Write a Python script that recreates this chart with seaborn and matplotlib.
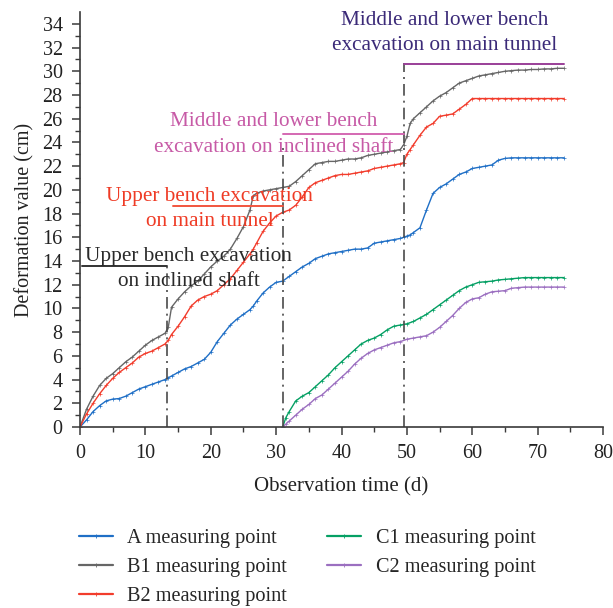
import numpy as np
import pandas as pd
import matplotlib
matplotlib.use("Agg")
import matplotlib.pyplot as plt
import seaborn as sns

# Observation days and deformation readings (cm)
days_ab = [0, 1, 2, 3, 4, 5, 6, 7, 8, 9, 10, 11, 12, 13, 13.5, 14, 15, 16, 17, 18,
           19, 20, 21, 22, 23, 24, 25, 26, 26.5, 27, 28, 29, 30, 31, 32, 33, 34, 35,
           36, 37, 38, 39, 40, 41, 42, 43, 44, 45, 46, 47, 48, 49, 49.5, 50, 50.5,
           51, 52, 53, 54, 55, 56, 57, 58, 59, 60, 61, 62, 63, 64, 65, 66, 67, 68,
           69, 70, 71, 72, 73, 74]

point_a = [0, 0.6, 1.3, 1.8, 2.2, 2.35, 2.4, 2.6, 2.9, 3.2, 3.4, 3.6, 3.8, 4.0, 4.15,
           4.3, 4.6, 4.9, 5.1, 5.4, 5.7, 6.3, 7.2, 7.9, 8.6, 9.1, 9.5, 9.9, 10.2,
           10.6, 11.3, 11.8, 12.2, 12.3, 12.7, 13.1, 13.5, 13.8, 14.2, 14.4, 14.6,
           14.7, 14.8, 14.9, 15.0, 15.0, 15.1, 15.5, 15.6, 15.7, 15.8, 15.9, 16.0,
           16.1, 16.2, 16.4, 16.8, 18.3, 19.7, 20.2, 20.5, 20.9, 21.3, 21.5, 21.8,
           21.9, 22.0, 22.1, 22.5, 22.65, 22.7, 22.7, 22.7, 22.7, 22.7, 22.7, 22.7,
           22.7, 22.7]

point_b1 = [0, 1.5, 2.6, 3.5, 4.1, 4.5, 5.0, 5.5, 5.9, 6.4, 6.9, 7.3, 7.6, 7.9, 8.4,
            10.1, 10.8, 11.4, 11.9, 12.3, 12.9, 13.5, 14.0, 14.4, 15.0, 15.9, 16.9,
            18.3, 19.5, 19.7, 19.9, 20.0, 20.1, 20.2, 20.3, 20.7, 21.2, 21.7, 22.2,
            22.3, 22.4, 22.4, 22.5, 22.6, 22.6, 22.7, 22.9, 23.0, 23.1, 23.2, 23.3,
            23.4, 23.8, 24.5, 25.6, 26.0, 26.5, 27.0, 27.5, 27.9, 28.2, 28.6, 29.0,
            29.2, 29.4, 29.6, 29.7, 29.8, 29.9, 30.0, 30.05, 30.1, 30.1, 30.15,
            30.15, 30.2, 30.2, 30.25, 30.25]

point_b2 = [0, 1.1, 2.0, 2.8, 3.5, 4.1, 4.6, 5.0, 5.4, 5.9, 6.2, 6.4, 6.7, 7.0, 7.3,
            7.8, 8.5, 9.3, 10.2, 10.7, 11.0, 11.2, 11.5, 12.0, 12.5, 13.2, 13.9,
            14.6, 15.0, 15.5, 16.5, 17.2, 17.8, 18.1, 18.3, 18.7, 19.4, 20.2, 20.6,
            20.8, 21.0, 21.2, 21.3, 21.3, 21.4, 21.5, 21.6, 21.8, 21.9, 22.0, 22.1,
            22.2, 22.3, 23.0, 23.4, 23.8, 24.6, 25.3, 25.6, 26.2, 26.3, 26.4, 26.8,
            27.2, 27.7, 27.7, 27.7, 27.7, 27.7, 27.7, 27.7, 27.7, 27.7, 27.7, 27.7,
            27.7, 27.7, 27.7, 27.7]

days_c = [31, 31.5, 32, 33, 34, 35, 36, 37, 38, 39, 40, 41, 42, 43, 44, 45, 46, 47,
          48, 49, 50, 51, 52, 53, 54, 55, 56, 57, 58, 59, 60, 61, 62, 63, 64, 65,
          66, 67, 68, 69, 70, 71, 72, 73, 74]

point_c1 = [0, 0.8, 1.3, 2.2, 2.6, 2.9, 3.4, 3.9, 4.4, 5.0, 5.5, 6.0, 6.5, 7.0, 7.3,
            7.5, 7.8, 8.2, 8.5, 8.6, 8.7, 8.9, 9.2, 9.5, 9.9, 10.3, 10.7, 11.1, 11.5,
            11.8, 12.0, 12.2, 12.25, 12.3, 12.4, 12.45, 12.5, 12.55, 12.6, 12.6,
            12.6, 12.6, 12.6, 12.6, 12.6]

point_c2 = [0, 0.25, 0.5, 1.0, 1.5, 1.9, 2.4, 2.7, 3.2, 3.7, 4.2, 4.7, 5.3, 5.8, 6.2,
            6.5, 6.7, 6.9, 7.1, 7.2, 7.4, 7.5, 7.6, 7.7, 8.0, 8.4, 8.9, 9.4, 10.0,
            10.5, 10.8, 10.9, 11.2, 11.4, 11.45, 11.5, 11.7, 11.75, 11.8, 11.8, 11.8,
            11.8, 11.8, 11.8, 11.8]

series_names = ["A measuring point", "B1 measuring point", "B2 measuring point",
                "C1 measuring point", "C2 measuring point"]
series_colors = ["#1f6fc6", "#666666", "#f23c2c", "#05a064", "#9b6fc0"]

# Days on which each construction stage starts
stage_days = [13.26, 31.0, 49.55]

frames = []
for name, days, vals in zip(series_names,
                            [days_ab, days_ab, days_ab, days_c, days_c],
                            [point_a, point_b1, point_b2, point_c1, point_c2]):
    frames.append(pd.DataFrame({"day": days, "value": vals, "series": name}))
df = pd.concat(frames, ignore_index=True)

sns.set_theme(style="ticks")
plt.rcParams["font.family"] = ["Liberation Serif", "DejaVu Serif"]
plt.rcParams["axes.edgecolor"] = "#3a3a3a"
plt.rcParams["xtick.color"] = "#3a3a3a"
plt.rcParams["ytick.color"] = "#3a3a3a"
plt.rcParams["xtick.labelcolor"] = "#222222"
plt.rcParams["ytick.labelcolor"] = "#222222"

fig = plt.figure(figsize=(6.13, 6.08), dpi=100)
ax = fig.add_axes([0.1305, 0.2977, 0.8532, 0.6826])

palette = dict(zip(series_names, series_colors))
sns.lineplot(data=df, x="day", y="value", hue="series", palette=palette,
             hue_order=series_names, ax=ax, linewidth=1.0, marker="+",
             markersize=2.2, markeredgewidth=0.5, legend=False, sort=False)
for ln in ax.lines:
    ln.set_markeredgecolor(ln.get_color())

ax.set_xlim(0, 80)
ax.set_ylim(0, 35)
ax.set_xticks(np.arange(0, 81, 10))
ax.set_xticks(np.arange(0, 81, 5), minor=True)
ax.set_yticks(np.arange(0, 35, 2))
ax.set_yticks(np.arange(0, 35, 1), minor=True)
ax.tick_params(axis="both", which="major", length=6, width=1.1, labelsize=14.5,
               direction="out", pad=6.5)
ax.tick_params(axis="both", which="minor", length=3.5, width=1.0, direction="out")
for side in ["top", "right"]:
    ax.spines[side].set_visible(False)
for side in ["left", "bottom"]:
    ax.spines[side].set_linewidth(1.2)
ax.set_xlabel("Observation time (d)", fontsize=15, color="#222222", labelpad=10)
ax.set_ylabel("Deformation value (cm)", fontsize=14.5, color="#222222", labelpad=6)

# Stage markers
dash = dict(color="#4a4a4a", lw=1.2, linestyle=(0, (7, 3, 1.2, 3)))
ax.plot([stage_days[0], stage_days[0]], [0, 13.6], **dash)
ax.plot([stage_days[1], stage_days[1]], [0, 23.6], **dash)
ax.plot([stage_days[2], stage_days[2]], [0, 30.7], **dash)

ax.plot([0.3, stage_days[0]], [13.6, 13.6], color="#333333", lw=1.4)
ax.plot([14.2, stage_days[1]], [18.6, 18.6], color="#f2553e", lw=1.4)
ax.plot([stage_days[1], stage_days[2]], [24.75, 24.75], color="#d468b2", lw=1.4)
ax.plot([stage_days[2], 74], [30.65, 30.65], color="#9a3f98", lw=1.4)

note_kw = dict(ha="center", va="center", fontsize=15.3, linespacing=1.45)
ax.text(16.6, 13.35, "Upper bench excavation\non inclined shaft",
        color="#2a2a2a", **note_kw)
ax.text(19.8, 18.4, "Upper bench excavation\non main tunnel",
        color="#ef3b25", **note_kw)
ax.text(29.6, 24.67, "Middle and lower bench\nexcavation on inclined shaft",
        color="#c75aa6", **note_kw)
ax.text(55.8, 33.25, "Middle and lower bench\nexcavation on main tunnel",
        color="#3b2a78", **note_kw)

handles = []
for c in series_colors:
    h = plt.Line2D([0, 0.5, 1], [0, 0, 0], color=c, lw=1.6, marker="+",
                   markersize=3, markeredgewidth=0.6, markevery=[1])
    handles.append(h)
fig.legend(handles, series_names, loc="upper left",
           bbox_to_anchor=(0.112, 1 - 519 / 608), bbox_transform=fig.transFigure,
           ncol=2, frameon=False, fontsize=14.6, handlelength=1.7,
           handletextpad=0.7, columnspacing=1.95, labelspacing=0.48, borderpad=0)

fig.savefig("out.png", dpi=100)
